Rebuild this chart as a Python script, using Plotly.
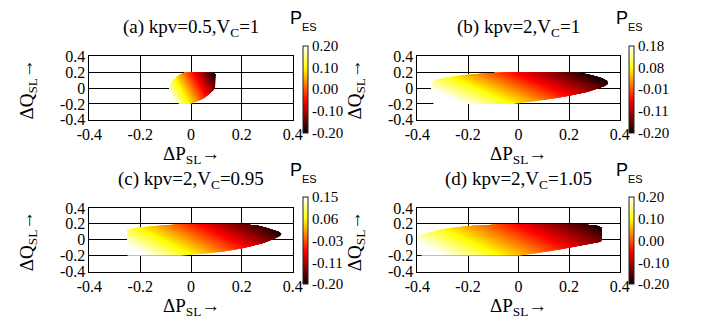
import plotly.graph_objects as go

# ---------------- data ----------------
# Delta Q_SL levels at which the outline of each region was read
Q_LEVELS = [-0.2, -0.175, -0.15, -0.125, -0.1, -0.075, -0.05, -0.025, 0.0,
            0.025, 0.05, 0.075, 0.1, 0.125, 0.15, 0.175, 0.2]

# left / right Delta P_SL edge of each region at those levels
A_LEFT = [-0.045, -0.058, -0.065, -0.069, -0.073, -0.077, -0.080, -0.083, -0.085,
          -0.085, -0.082, -0.077, -0.070, -0.062, -0.053, -0.040, -0.020]
A_RIGHT = [-0.003, 0.018, 0.037, 0.052, 0.063, 0.071, 0.080, 0.088, 0.093,
           0.095, 0.095, 0.095, 0.095, 0.095, 0.095, 0.095, 0.088]
B_LEFT = [-0.335, -0.342, -0.345, -0.345, -0.345, -0.345, -0.345, -0.345, -0.345,
          -0.345, -0.345, -0.340, -0.330, -0.300, -0.250, -0.180, -0.050]
B_RIGHT = [-0.020, 0.040, 0.100, 0.150, 0.195, 0.235, 0.270, 0.295, 0.320,
           0.340, 0.352, 0.353, 0.345, 0.330, 0.305, 0.275, 0.230]
C_LEFT = [-0.250, -0.250, -0.250, -0.250, -0.250, -0.250, -0.250, -0.250, -0.250,
          -0.250, -0.250, -0.250, -0.250, -0.250, -0.215, -0.135, -0.030]
C_RIGHT = [-0.040, 0.050, 0.120, 0.170, 0.210, 0.245, 0.275, 0.298, 0.318,
           0.335, 0.350, 0.355, 0.345, 0.320, 0.295, 0.265, 0.200]
D_LEFT = [-0.380, -0.400, -0.430, -0.430, -0.430, -0.430, -0.430, -0.430, -0.430,
          -0.430, -0.410, -0.370, -0.340, -0.310, -0.260, -0.180, -0.030]
D_RIGHT = [0.000, 0.060, 0.115, 0.160, 0.200, 0.240, 0.280, 0.325, 0.330,
           0.330, 0.330, 0.330, 0.330, 0.330, 0.330, 0.310, 0.240]

# P_ES read along each band between two levels (bottom -> top),
# at the two Delta P_SL positions given in *_GRAD_P
A_GRAD_P = (-0.1, 0.1)
A_V0 = [0.236, 0.229, 0.221, 0.214, 0.206, 0.199, 0.191, 0.184,
        0.176, 0.169, 0.161, 0.154, 0.146, 0.139, 0.131, 0.124]
A_V1 = [-0.124, -0.131, -0.139, -0.146, -0.154, -0.161, -0.169, -0.176,
        -0.184, -0.191, -0.199, -0.206, -0.214, -0.221, -0.229, -0.236]
B_GRAD_P = (-0.4, 0.4)
B_V0 = [0.262, 0.254, 0.245, 0.236, 0.227, 0.219, 0.210, 0.201,
        0.193, 0.184, 0.175, 0.167, 0.158, 0.149, 0.140, 0.132]
B_V1 = [-0.138, -0.146, -0.155, -0.164, -0.173, -0.181, -0.190, -0.199,
        -0.207, -0.216, -0.225, -0.233, -0.242, -0.251, -0.260, -0.268]
C_GRAD_P = (-0.4, 0.4)
C_V0 = [0.256, 0.249, 0.241, 0.234, 0.226, 0.219, 0.211, 0.204,
        0.196, 0.189, 0.181, 0.174, 0.166, 0.159, 0.151, 0.144]
C_V1 = [-0.144, -0.151, -0.159, -0.166, -0.174, -0.181, -0.189, -0.196,
        -0.204, -0.211, -0.219, -0.226, -0.234, -0.241, -0.249, -0.256]
D_GRAD_P = (-0.4, 0.4)
D_V0 = [0.244, 0.237, 0.229, 0.222, 0.214, 0.207, 0.199, 0.192,
        0.184, 0.177, 0.169, 0.162, 0.154, 0.147, 0.139, 0.132]
D_V1 = [-0.132, -0.139, -0.147, -0.154, -0.162, -0.169, -0.177, -0.184,
        -0.192, -0.199, -0.207, -0.214, -0.222, -0.229, -0.237, -0.244]

TITLES = ["(a) kpv=0.5,V<sub>C</sub>=1", "(b) kpv=2,V<sub>C</sub>=1",
          "(c) kpv=2,V<sub>C</sub>=0.95", "(d) kpv=2,V<sub>C</sub>=1.05"]
CB_RANGES = [(-0.20, 0.20), (-0.20, 0.18), (-0.20, 0.15), (-0.20, 0.20)]
CB_TICKVALS = [[-0.2, -0.1, 0.0, 0.1, 0.2],
               [-0.2, -0.105, -0.01, 0.085, 0.18],
               [-0.2, -0.1125, -0.025, 0.0625, 0.15],
               [-0.2, -0.1, 0.0, 0.1, 0.2]]
CB_TICKTEXT = [["-0.20", "-0.10", "0.00", "0.10", "0.20"],
               ["-0.20", "-0.11", "-0.01", "0.08", "0.18"],
               ["-0.20", "-0.11", "-0.03", "0.06", "0.15"],
               ["-0.20", "-0.10", "0.00", "0.10", "0.20"]]
AX_TICKVALS = [-0.4, -0.2, 0, 0.2, 0.4]
AX_TICKTEXT = ["-0.4", "-0.2", "0", "0.2", "0.4"]

# ---------------- styling / layout ----------------
W, H = 709, 326
SERIF = "Liberation Serif, Times New Roman, serif"
SANS = "Liberation Sans, Arial, sans-serif"
HOT_KNOTS = [(0.0, (10, 0, 0)), (0.375, (255, 0, 0)),
             (0.75, (255, 255, 0)), (1.0, (255, 255, 255))]
HOT = [[u, "rgb(%d,%d,%d)" % c] for u, c in HOT_KNOTS]


def fx(px):
    return px / W


def fy(py):
    return 1 - py / H


def hot_rgb(u):
    u = min(1.0, max(0.0, u))
    for (u0, c0), (u1, c1) in zip(HOT_KNOTS[:-1], HOT_KNOTS[1:]):
        if u <= u1:
            f = (u - u0) / (u1 - u0)
            return "rgb(%d,%d,%d)" % tuple(round(a + (b - a) * f) for a, b in zip(c0, c1))
    return "rgb(255,255,255)"


def band_colorscale(v0, v1, zmin, zmax):
    """colour ramp of one band, mapping its P_ES values through the hot scale"""
    u0 = (v0 - zmin) / (zmax - zmin)
    u1 = (v1 - zmin) / (zmax - zmin)
    ts = {0.0, 1.0}
    for k, _ in HOT_KNOTS:
        if (k - u0) * (k - u1) < 0:
            ts.add((k - u0) / (u1 - u0))
    return [[t, hot_rgb(u0 + (u1 - u0) * t)] for t in sorted(ts)]


# plot areas in pixels: (left, right, top, bottom)
PANELS = [(79, 289, 51, 118), (418, 627, 51, 118),
          (79, 289, 211, 278), (418, 627, 211, 278)]
CB_X = [300, 637, 300, 637]

panel_data = [
    (A_LEFT, A_RIGHT, A_GRAD_P, A_V0, A_V1),
    (B_LEFT, B_RIGHT, B_GRAD_P, B_V0, B_V1),
    (C_LEFT, C_RIGHT, C_GRAD_P, C_V0, C_V1),
    (D_LEFT, D_RIGHT, D_GRAD_P, D_V0, D_V1),
]

fig = go.Figure()
annotations = []
layout_axes = {}
for i, ((l, r, t, b), (left, right, gp, v0s, v1s)) in enumerate(zip(PANELS, panel_data)):
    n = "" if i == 0 else str(i + 1)
    zmin, zmax = CB_RANGES[i]
    # bands drawn bottom -> top; each band's polygon runs from its lower level
    # to the top so that no seams appear between neighbouring bands
    for s in range(len(Q_LEVELS) - 1):
        xs = left[s:] + right[s:][::-1] + [left[s]]
        ys = Q_LEVELS[s:] + Q_LEVELS[s:][::-1] + [Q_LEVELS[s]]
        fig.add_trace(go.Scatter(
            x=xs, y=ys, mode="lines", fill="toself", line=dict(width=0),
            fillgradient=dict(type="horizontal", start=gp[0], stop=gp[1],
                              colorscale=band_colorscale(v0s[s], v1s[s], zmin, zmax)),
            xaxis="x" + n, yaxis="y" + n, hoverinfo="skip", showlegend=False,
        ))
    # colour bar
    fig.add_trace(go.Scatter(
        x=[None, None], y=[None, None], mode="markers", xaxis="x" + n, yaxis="y" + n,
        hoverinfo="skip", showlegend=False,
        marker=dict(color=[zmin, zmax], cmin=zmin, cmax=zmax, colorscale=HOT,
                    showscale=True, size=1,
                    colorbar=dict(
                        x=fx(CB_X[i]), xanchor="left", xref="paper",
                        y=fy((t + b) / 2 + 1), yanchor="middle", yref="paper",
                        len=87, lenmode="pixels", thickness=5, thicknessmode="pixels",
                        xpad=0, ypad=0, outlinewidth=1, outlinecolor="#222",
                        tickmode="array", tickvals=CB_TICKVALS[i], ticktext=CB_TICKTEXT[i],
                        ticks="", tickfont=dict(family=SERIF, size=15, color="black"),
                    )),
    ))
    axcommon = dict(range=[-0.4, 0.4], tickmode="array", tickvals=AX_TICKVALS,
                    ticktext=AX_TICKTEXT, showgrid=True, gridcolor="black", gridwidth=1,
                    zeroline=False, showline=True, linecolor="black", linewidth=1,
                    mirror=True, ticks="", fixedrange=True,
                    tickfont=dict(family=SERIF, size=16, color="black"))
    layout_axes["xaxis" + n] = dict(axcommon, domain=[fx(l), fx(r)], anchor="y" + n)
    layout_axes["yaxis" + n] = dict(axcommon, domain=[fy(b), fy(t)], anchor="x" + n)

    cx = (l + r) / 2
    annotations += [
        dict(text=TITLES[i], x=fx(cx), y=fy(t - 30), xanchor="center", yanchor="middle",
             font=dict(family=SERIF, size=19, color="black")),
        dict(text="\u0394P<sub>SL</sub>\u2192", x=fx(cx), y=fy(b + 37), xanchor="center",
             yanchor="middle", font=dict(family=SERIF, size=19, color="black")),
        dict(text="\u0394Q<sub>SL</sub>\u2192", x=fx(l - 64), y=fy((t + b) / 2 + 2),
             xanchor="center", yanchor="middle", textangle=-90,
             font=dict(family=SERIF, size=19, color="black")),
        dict(text="P", x=fx(CB_X[i] - 8), y=fy(t - 40), xanchor="center", yanchor="middle",
             font=dict(family=SANS, size=18, color="black")),
        dict(text="ES", x=fx(CB_X[i] + 6), y=fy(t - 31), xanchor="center", yanchor="middle",
             font=dict(family=SANS, size=11, color="black")),
    ]

for a in annotations:
    a.update(xref="paper", yref="paper", showarrow=False)

fig.update_layout(
    width=W, height=H, margin=dict(l=0, r=0, t=0, b=0),
    paper_bgcolor="white", plot_bgcolor="white", showlegend=False,
    annotations=annotations, **layout_axes,
)

fig.write_html("out.html", config={"displayModeBar": False})
